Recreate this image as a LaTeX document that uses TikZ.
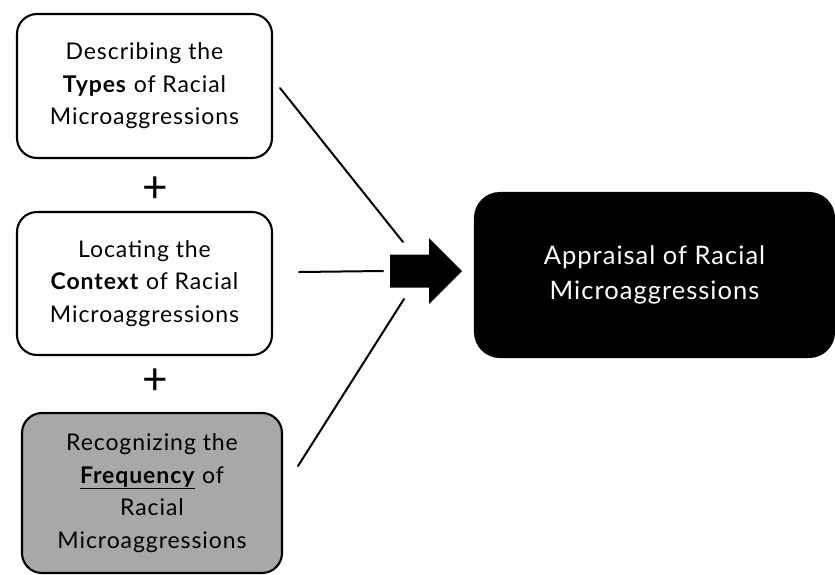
\documentclass[tikz,border=0pt]{standalone}
\usepackage{fontspec}
\setmainfont[LetterSpace=4]{Lato}
\newfontfamily\plusfont{Lato}
\begin{document}
\begin{tikzpicture}[x=1pt,y=-1pt,
  box/.style={draw=black, line width=2.1pt, rounded corners=20pt, align=center,
    font=\fontsize{23}{32.5}\selectfont, inner sep=0pt},
  link/.style={line width=2pt, line cap=round},
  plus/.style={font=\plusfont\fontsize{44}{44}\selectfont, inner sep=0pt}]
\useasboundingbox (0,0) rectangle (835,574);
\node[box, fill=white, minimum width=255pt, minimum height=144pt] (b1) at (144.5,86)
  {Describing the\\\textbf{Types} of Racial\\Microaggressions};
\node[box, fill=white, minimum width=255pt, minimum height=143pt] (b2) at (144.5,283.5)
  {Locating the\\\textbf{Context} of Racial\\Microaggressions};
\node[box, fill=black!34, minimum width=260pt, minimum height=160pt] (b3) at (152,493)
  {Recognizing the\\\underline{\textbf{Frequency}} of\\Racial\\Microaggressions};
\node[box, fill=black, text=white, rounded corners=25pt, minimum width=359pt, minimum height=164pt,
  font=\fontsize{25.5}{35}\selectfont] (out) at (654.5,275)
  {\raisebox{-4.5pt}{\begin{tabular}{@{}c@{}}Appraisal of Racial\\Microaggressions\end{tabular}}};
\node[plus] (p1) at (155,190) {+};
\node[plus] (p2) at (155,382) {+};
\coordinate (s1) at (280,88);
\coordinate (e1) at (403,242);
\coordinate (s2) at (299,272);
\coordinate (e2) at (383,271);
\coordinate (s3) at (298,466);
\coordinate (e3) at (404,299);
\draw[link] (s1) -- (e1);
\draw[link] (s2) -- (e2);
\draw[link] (s3) -- (e3);
\coordinate (arr) at (390,271);
\fill[black] (arr) ++(0,-16.5) -- ++(39,0) -- ++(0,-16.5) -- (462,271) -- (429,304) -- ++(0,-16.5) -- ++(-39,0) -- cycle;
\end{tikzpicture}
\end{document}
